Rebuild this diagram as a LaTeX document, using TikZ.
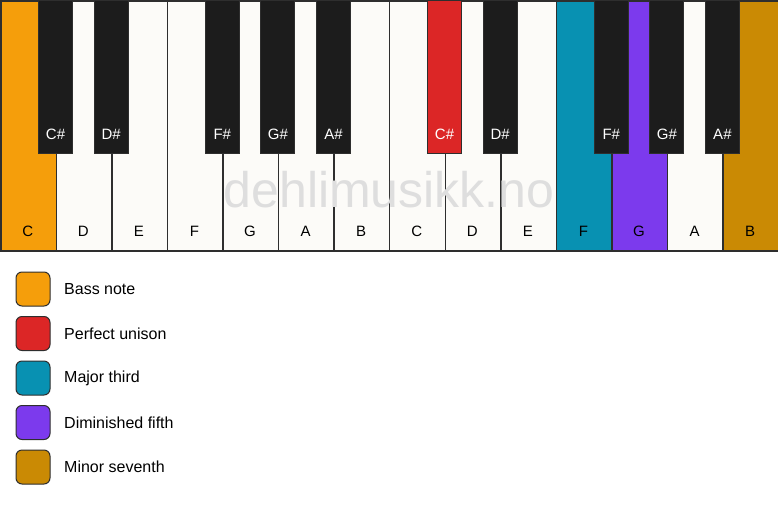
\documentclass[tikz,border=0pt]{standalone}
\usepackage{fontspec}
\setmainfont{Liberation Sans}
\definecolor{keywhite}{HTML}{FCFBF8}
\definecolor{keyblack}{HTML}{1C1C1C}
\definecolor{keyline}{HTML}{2E2E2E}
\definecolor{bassnote}{HTML}{F59E0B}
\definecolor{unison}{HTML}{DC2626}
\definecolor{majthird}{HTML}{0891B2}
\definecolor{dimfifth}{HTML}{7C3AED}
\definecolor{minseventh}{HTML}{CA8A04}
\definecolor{wmark}{HTML}{DEDEDE}
\tikzset{
  whitekey/.style={draw=keyline,line width=1.5pt,anchor=north west,inner sep=0pt,
    minimum width=55.57pt,minimum height=250pt},
  blackkey/.style={draw=keyline,line width=0.8pt,anchor=north,inner sep=0pt,
    minimum width=34pt,minimum height=153pt},
  keylabel/.style={anchor=base,font=\fontsize{15}{18}\selectfont},
  legendbox/.style={draw=keyline,line width=1pt,rounded corners=6pt,inner sep=0pt,
    minimum size=34pt},
  legendtext/.style={anchor=west,inner sep=0pt,font=\fontsize{16}{19}\selectfont}
}
\begin{document}
\begin{tikzpicture}[x=1pt,y=-1pt]
  \useasboundingbox (0,0) rectangle (778,506);
  % white keys
  \foreach \n/\col [count=\i from 0] in {C/bassnote,D/keywhite,E/keywhite,F/keywhite,
      G/keywhite,A/keywhite,B/keywhite,C/keywhite,D/keywhite,E/keywhite,
      F/majthird,G/dimfifth,A/keywhite,B/minseventh} {
    \node[whitekey,fill=\col] (w\i) at ({\i*55.57},0) {};
    \node[keylabel] (wl\i) at ({(\i+0.5)*55.57},236) {\n};
  }
  % black keys
  \foreach \n/\b/\col in {C\#/1/keyblack,D\#/2/keyblack,F\#/4/keyblack,G\#/5/keyblack,
      A\#/6/keyblack,C\#/8/unison,D\#/9/keyblack,F\#/11/keyblack,G\#/12/keyblack,
      A\#/13/keyblack} {
    \node[blackkey,fill=\col] (b\b) at ({\b*55.57},0) {};
    \node[keylabel,text=white] (bl\b) at ({\b*55.57},139) {\n};
  }
  \node[text=wmark,font=\fontsize{50}{60}\selectfont] (mark) at (389,190) {dehlimusikk.no};
  % legend
  \foreach \txt/\col [count=\j from 0] in {Bass note/bassnote,Perfect unison/unison,
      Major third/majthird,Diminished fifth/dimfifth,Minor seventh/minseventh} {
    \node[legendbox,fill=\col] (box\j) at (33,{289+\j*44.5}) {};
    \node[legendtext] (txt\j) at (64,{289+\j*44.5}) {\txt};
  }
\end{tikzpicture}
\end{document}
